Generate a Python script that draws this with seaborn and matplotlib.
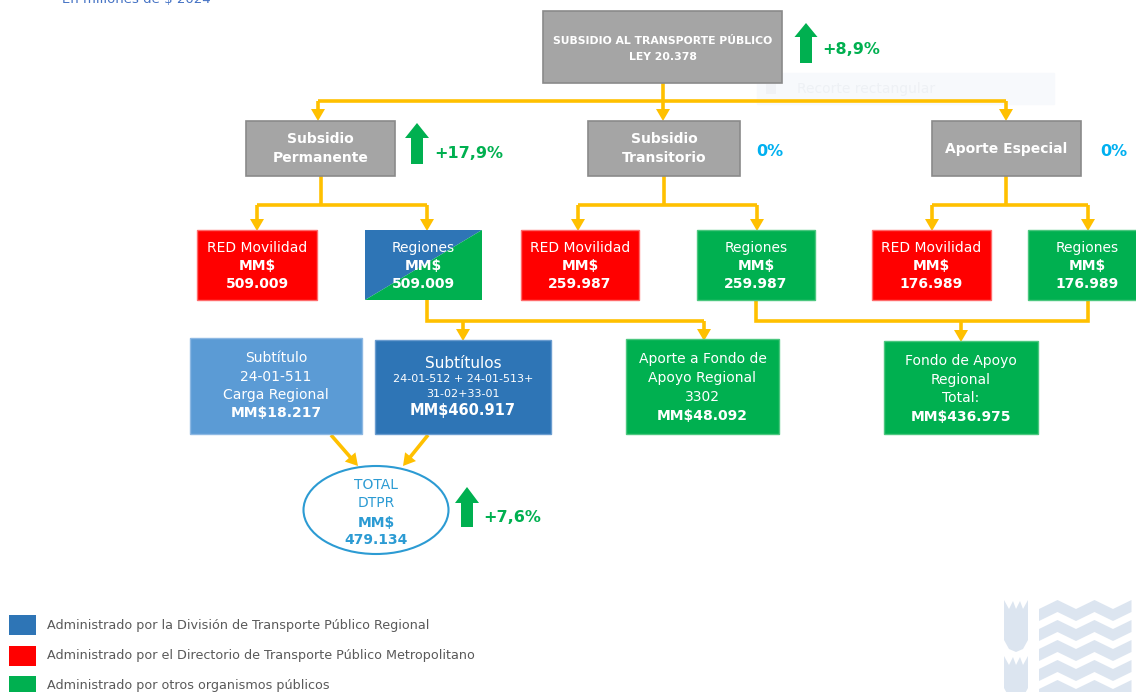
import matplotlib
matplotlib.use("Agg")
import matplotlib.pyplot as plt
from matplotlib.patches import Rectangle, Polygon, Ellipse
import seaborn as sns
import numpy as np

# ---------------- data ----------------
subtitulo_grafico = "En millones de $ 2024"
titulo_principal = ["SUBSIDIO AL TRANSPORTE PÚBLICO", "LEY 20.378"]
variacion_total = "+8,9%"
subsidios = [["Subsidio", "Permanente"], ["Subsidio", "Transitorio"], ["Aporte Especial"]]
variaciones_subsidio = ["+17,9%", "0%", "0%"]
destinos = ["RED Movilidad", "Regiones", "RED Movilidad", "Regiones", "RED Movilidad", "Regiones"]
montos_destino = ["509.009", "509.009", "259.987", "259.987", "176.989", "176.989"]
administrador_destino = ["dtpm", "mixto", "dtpm", "otros", "dtpm", "otros"]
detalle_titulos = [["Subtítulo", "24-01-511", "Carga Regional"],
                   ["Subtítulos"],
                   ["Aporte a Fondo de", "Apoyo Regional", "3302"],
                   ["Fondo de Apoyo", "Regional", "Total:"]]
detalle_codigos = [[], ["24-01-512 + 24-01-513+", "31-02+33-01"], [], []]
detalle_montos = ["MM$18.217", "MM$460.917", "MM$48.092", "MM$436.975"]
total_titulo = ["TOTAL", "DTPR"]
total_monto = "479.134"
variacion_dtpr = "+7,6%"
leyenda = ["Administrado por la División de Transporte Público Regional",
           "Administrado por el Directorio de Transporte Público Metropolitano",
           "Administrado por otros organismos públicos"]

# ---------------- styles ----------------
sns.set_theme(style="white")
plt.rcParams['font.family'] = ['DejaVu Sans']
pal = dict(zip(["dtpr", "dtpm", "otros"], sns.color_palette(["#2E75B6", "#FF0000", "#00B050"])))
GRAY, GRAY_EDGE = "#A5A5A5", "#8A8A8A"
LIGHTBLUE = "#5B9BD5"
YELLOW = "#FFC000"
GREEN_TXT = "#00B050"
CYAN = "#00B0F0"
ELL = "#2C9BD3"

fig = plt.figure(figsize=(11.36, 6.92), dpi=100)
ax = fig.add_axes([0, 0, 1, 1])
ax.set_xlim(0, 1136)
ax.set_ylim(692, 0)
ax.axis("off")


def box(x0, y0, x1, y1, fc, ec=None, lw=1.0, z=3):
    ax.add_patch(Rectangle((x0, y0), x1 - x0, y1 - y0, facecolor=fc,
                           edgecolor=ec if ec else fc, lw=lw, zorder=z))


def lines_text(xc, ys, items, color="white"):
    for y, (t, bold, size) in zip(ys, items):
        ax.text(xc, y, t, ha="center", va="center", color=color,
                fontsize=size, fontweight="bold" if bold else "normal", zorder=6)


def seg(pts):
    pts = np.array(pts, dtype=float)
    ax.plot(pts[:, 0], pts[:, 1], color=YELLOW, lw=2.6, solid_capstyle="butt",
            solid_joinstyle="miter", zorder=2)


def head(x0, y0, x1, y1, L=12, W=14):
    d = np.array([x1 - x0, y1 - y0], float)
    d /= np.linalg.norm(d)
    n = np.array([-d[1], d[0]])
    tip = np.array([x1, y1], float)
    base = tip - d * L
    ax.add_patch(Polygon([base + n * W / 2, base - n * W / 2, tip], closed=True,
                         facecolor=YELLOW, edgecolor="none", zorder=2))


def arrow(x0, y0, x1, y1):
    d = np.array([x1 - x0, y1 - y0], float)
    dn = d / np.linalg.norm(d)
    seg([(x0, y0), (x1 - dn[0] * 8, y1 - dn[1] * 8)])
    head(x0, y0, x1, y1)


def up_arrow(xc, top, hb, bottom, sw=12, hw=24):
    pts = [(xc - sw / 2, bottom), (xc - sw / 2, hb), (xc - hw / 2, hb), (xc, top),
           (xc + hw / 2, hb), (xc + sw / 2, hb), (xc + sw / 2, bottom)]
    ax.add_patch(Polygon(pts, closed=True, facecolor=GREEN_TXT, edgecolor="none", zorder=4))


# ---- header text (cropped at top, as in the source) ----
ax.text(62, 3, subtitulo_grafico, ha="left", va="baseline", color="#4472C4", fontsize=9.5)

# ---- ghost snip box ----
box(757, 73, 1054, 104, "#F7F9FC", z=1)
ax.add_patch(Rectangle((766, 84), 10, 10, facecolor="#F0F2F6", edgecolor="none", zorder=1))
ax.text(797, 89, "Recorte rectangular", ha="left", va="center", color="#EEF1F5", fontsize=10, zorder=1)

# ---- top box ----
box(543, 11, 782, 83, GRAY, GRAY_EDGE, lw=1.2)
lines_text(662.5, [41, 57], [(titulo_principal[0], True, 7.8), (titulo_principal[1], True, 7.8)])
up_arrow(806, 23, 37, 63, sw=12, hw=23)
ax.text(822, 50, variacion_total, ha="left", va="center", color=GREEN_TXT, fontsize=11.5, fontweight="bold")

# top connectors
seg([(663, 83), (663, 101)])
seg([(318, 101), (1006, 101)])
for x in [318, 663, 1006]:
    arrow(x, 101, x, 121)

# ---- level 2 ----
l2_x = [(246, 395), (588, 740), (932, 1081)]
l2_size = [10, 10, 10]
for (x0, x1), lab, fs in zip(l2_x, subsidios, l2_size):
    box(x0, 121, x1, 176, GRAY, GRAY_EDGE, lw=1.2)
    ys = [139, 158] if len(lab) == 2 else [149]
    lines_text((x0 + x1) / 2, ys, [(t, True, fs) for t in lab])

up_arrow(417, 123, 138, 164, sw=12, hw=24)
ax.text(434, 153, variaciones_subsidio[0], ha="left", va="center", color=GREEN_TXT, fontsize=11.5, fontweight="bold")
ax.text(756, 151, variaciones_subsidio[1], ha="left", va="center", color=CYAN, fontsize=11.5, fontweight="bold")
ax.text(1100, 151, variaciones_subsidio[2], ha="left", va="center", color=CYAN, fontsize=11.5, fontweight="bold")

# level 2 -> 3 connectors
for xc, xl, xr in [(321, 257, 427), (664, 578, 757), (1006, 932, 1088)]:
    seg([(xc, 176), (xc, 205)])
    seg([(xl, 205), (xr, 205)])
    arrow(xl, 205, xl, 231)
    arrow(xr, 205, xr, 231)

# ---- level 3 ----
l3_x = [(197, 317), (365, 482), (521, 639), (697, 815), (872, 991), (1028, 1146)]
edge_map = {"dtpm": "#FF6B6B", "otros": "#4CC77F"}
for (x0, x1), dest, monto, adm in zip(l3_x, destinos, montos_destino, administrador_destino):
    y0, y1 = 230, 300
    if adm == "mixto":
        ax.add_patch(Polygon([(x0, y0), (x1, y0), (x0, y1)], closed=True, facecolor=pal["dtpr"],
                             edgecolor="none", zorder=3))
        ax.add_patch(Polygon([(x1, y0), (x1, y1), (x0, y1)], closed=True, facecolor=pal["otros"],
                             edgecolor="none", zorder=3))
    else:
        box(x0, y0, x1, y1, pal[adm], edge_map[adm], lw=1.0)
    lines_text((x0 + x1) / 2, [248, 266, 284], [(dest, False, 10), ("MM$", True, 10), (monto, True, 10)])

# level 3 -> 4 connectors
seg([(427, 300), (427, 321), (704, 321)])
arrow(463, 321, 463, 341)
arrow(704, 321, 704, 341)
seg([(756, 300), (756, 321), (1088, 321), (1088, 300)])
arrow(961, 321, 961, 342)

# ---- level 4 ----
l4 = [(190, 338, 362, 434, LIGHTBLUE, "#8DB8E3"),
      (375, 340, 551, 434, pal["dtpr"], "#6A9CCF"),
      (626, 339, 779, 434, pal["otros"], "#4CC77F"),
      (884, 341, 1038, 434, pal["otros"], "#4CC77F")]
for (x0, y0, x1, y1, fc, ec) in l4:
    box(x0, y0, x1, y1, fc, ec, lw=1.0)

lines_text(276, [358, 377, 395, 413],
           [(t, False, 10) for t in detalle_titulos[0]] + [(detalle_montos[0], True, 10)])
lines_text(463, [363, 379, 394, 411],
           [(detalle_titulos[1][0], False, 11)] + [(t, False, 8) for t in detalle_codigos[1]]
           + [(detalle_montos[1], True, 10.5)])
lines_text(702.5, [359, 378, 397, 416],
           [(t, False, 10) for t in detalle_titulos[2]] + [(detalle_montos[2], True, 10)])
lines_text(961, [361, 380, 398, 417],
           [(t, False, 10) for t in detalle_titulos[3]] + [(detalle_montos[3], True, 10)])

# arrows to ellipse
arrow(331, 435, 358, 466)
arrow(428, 435, 403, 466)

# ---- ellipse total ----
ax.add_patch(Ellipse((376, 510), 145, 88, facecolor="white", edgecolor=ELL, lw=1.5, zorder=3))
lines_text(376, [485, 503, 523, 540],
           [(total_titulo[0], False, 10), (total_titulo[1], False, 10), ("MM$", True, 10), (total_monto, True, 10)],
           color=ELL)
up_arrow(467, 487, 503, 527, sw=12, hw=24)
ax.text(483, 517, variacion_dtpr, ha="left", va="center", color=GREEN_TXT, fontsize=11.5, fontweight="bold")

# ---- legend ----
leg_cols = [pal["dtpr"], pal["dtpm"], pal["otros"]]
for i, (lab, c) in enumerate(zip(leyenda, leg_cols)):
    yc = 625 + i * 30.5
    ax.add_patch(Rectangle((9, yc - 10), 27, 20, facecolor=c, edgecolor="none", zorder=3))
    ax.text(47, yc, lab, ha="left", va="center", color="#595959", fontsize=9.2)

# ---- watermark logo ----
LOGO = "#DCE5F0"
for (ytop, ybot) in [(600, 652), (656, 700)]:
    pts = [(1004, ytop), (1009, ytop + 9), (1013, ytop + 1), (1016, ytop + 9), (1020, ytop + 1),
           (1023, ytop + 9), (1028, ytop), (1028, ybot - 12), (1023, ybot - 3), (1016, ybot),
           (1009, ybot - 3), (1004, ybot - 12)]
    ax.add_patch(Polygon(pts, closed=True, facecolor=LOGO, edgecolor="none", zorder=1))
xs = np.arange(1039, 1150, 18.5)
for k in range(5):
    y0 = 600 + k * 20
    top = [(x, y0 + (9 if i % 2 == 0 else 0)) for i, x in enumerate(xs)]
    bot = [(x, y + 12) for (x, y) in top[::-1]]
    ax.add_patch(Polygon(top + bot, closed=True, facecolor=LOGO, edgecolor="none", zorder=1))

fig.savefig("out.png", dpi=100)
